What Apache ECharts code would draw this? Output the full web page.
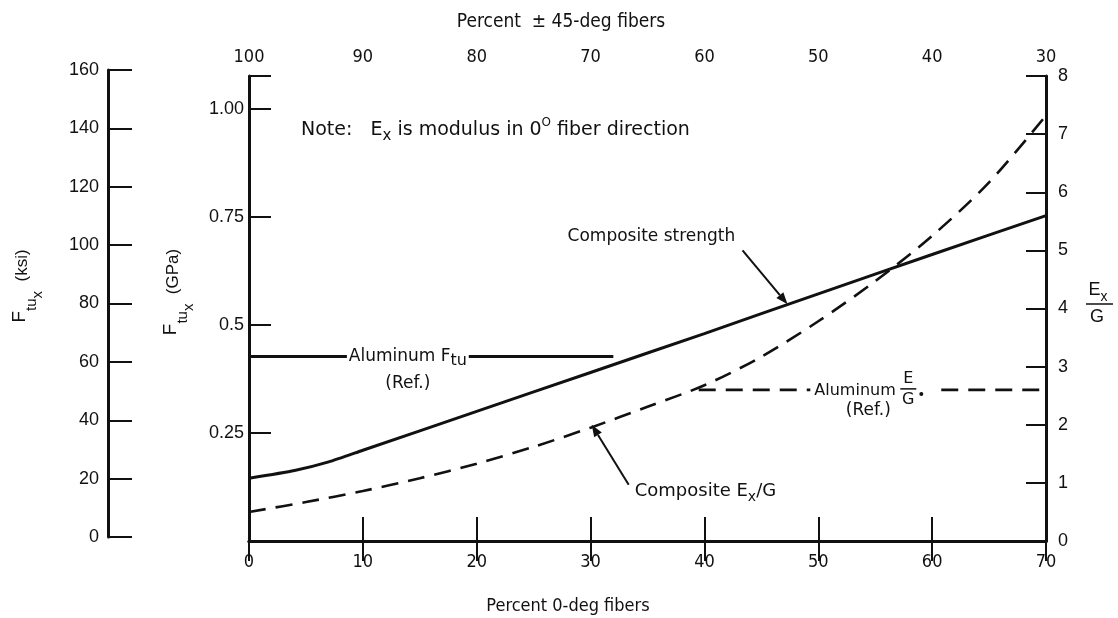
<!DOCTYPE html>
<html>
<head>
<meta charset="utf-8">
<script src="https://cdn.jsdelivr.net/npm/echarts@6/dist/echarts.min.js"></script>
<style>
  html, body { margin: 0; padding: 0; background: #ffffff; }
  #chart { width: 1118px; height: 618px; }
</style>
</head>
<body>
<div id="chart"></div>
<script>
// ---- axis ticks ----
const zeroDegTicks = [0, 10, 20, 30, 40, 50, 60, 70];          // percent 0-deg fibers (bottom)
const pm45Ticks = [100, 90, 80, 70, 60, 50, 40, 30];           // percent ±45-deg fibers (top)
const gpaTickLabels = { '0.25': '0.25', '0.5': '0.5', '0.75': '0.75', '1': '1.00' };
const ksiTicks = [0, 20, 40, 60, 80, 100, 120, 140, 160];
const ratioTicks = [0, 1, 2, 3, 4, 5, 6, 7, 8];

// ---- composite tensile strength, GPa ----
const strengthPct = [0, 4, 7, 10, 20, 30, 40, 50, 60, 70];
const strengthGPa = [0.145, 0.163, 0.183, 0.21, 0.30, 0.39, 0.48, 0.572, 0.663, 0.753];

// ---- composite Ex/G ratio ----
const modulusPct = [0, 5, 10, 15, 20, 25, 30, 35, 40, 45, 50, 55, 60, 65, 70];
const modulusRatio = [0.5, 0.67, 0.86, 1.08, 1.33, 1.62, 1.95, 2.31, 2.68, 3.17, 3.78, 4.47, 5.25, 6.17, 7.32];

// ---- aluminum reference levels (each line is broken around its label) ----
const aluminumFtuGPa = 0.427;
const aluminumFtuPct = [0, 8.6, 19.3, 32];
const aluminumRatio = 2.6;
const aluminumRatioPct = [39.5, 49.3, 60.8, 70];

const SANS = '"Liberation Sans", Arial, sans-serif';
const NARROW = '"Liberation Sans Narrow", "DejaVu Sans Condensed", "Liberation Sans", sans-serif';
const NOTE = '"DejaVu Sans", Verdana, sans-serif';
const INK = '#111111';

function brokenLevel(xs, v) {
  return [[xs[0], v], [xs[1], v], [(xs[1] + xs[2]) / 2, '-'], [xs[2], v], [xs[3], v]];
}

const chart = echarts.init(document.getElementById('chart'), null, { renderer: 'canvas' });

const tickStyle = (len) => ({ show: true, inside: true, length: len, lineStyle: { color: INK, width: 2 } });
const lineStyle = { show: true, lineStyle: { color: INK, width: 3 } };

const option = {
  backgroundColor: '#ffffff',
  animation: false,
  grid: [
    { left: 249, right: 72, top: 76, bottom: 77 },
    { left: 108, top: 70, bottom: 81, width: 40 }
  ],
  xAxis: [
    {
      type: 'value', gridIndex: 0, position: 'bottom', min: 0, max: 70, interval: 10,
      axisLine: lineStyle, axisTick: tickStyle(24), splitLine: { show: false },
      axisLabel: {
        margin: 12, color: INK, fontFamily: NARROW, fontSize: 18,
        formatter: (v) => zeroDegTicks.includes(v) ? String(v) : ''
      }
    },
    {
      type: 'value', gridIndex: 0, position: 'top', min: 30, max: 100, interval: 10, inverse: true,
      axisLine: lineStyle, axisTick: tickStyle(20), splitLine: { show: false },
      axisLabel: {
        margin: 10, color: INK, fontFamily: NARROW, fontSize: 18,
        formatter: (v) => pm45Ticks.includes(v) ? String(v) : ''
      }
    },
    { type: 'value', gridIndex: 1, min: 0, max: 1, show: false }
  ],
  yAxis: [
    {
      type: 'value', gridIndex: 0, position: 'left', min: 0, max: 1.076, interval: 0.25,
      axisLine: lineStyle, axisTick: tickStyle(22), splitLine: { show: false },
      axisLabel: {
        margin: 5, color: INK, fontFamily: SANS, fontSize: 18,
        formatter: (v) => gpaTickLabels[String(+v.toFixed(2))] || ''
      }
    },
    {
      type: 'value', gridIndex: 0, position: 'right', min: 0, max: 8, interval: 1,
      axisLine: lineStyle, axisTick: tickStyle(20), splitLine: { show: false },
      axisLabel: {
        margin: 12, color: INK, fontFamily: SANS, fontSize: 18,
        formatter: (v) => ratioTicks.includes(v) ? String(v) : ''
      }
    },
    {
      type: 'value', gridIndex: 1, position: 'left', min: 0, max: 160, interval: 20,
      axisLine: lineStyle, axisTick: tickStyle(24), splitLine: { show: false },
      axisLabel: {
        margin: 9, color: INK, fontFamily: SANS, fontSize: 18,
        formatter: (v) => ksiTicks.includes(v) ? String(v) : ''
      }
    }
  ],
  series: [
    {
      name: 'Composite strength', type: 'line', xAxisIndex: 0, yAxisIndex: 0,
      data: strengthPct.map((x, i) => [x, strengthGPa[i]]),
      symbol: 'none', smooth: 0.2, lineStyle: { color: INK, width: 3 }
    },
    {
      name: 'Composite Ex/G', type: 'line', xAxisIndex: 0, yAxisIndex: 1,
      data: modulusPct.map((x, i) => [x, modulusRatio[i]]),
      symbol: 'none', smooth: 0.3, lineStyle: { color: INK, width: 2.6, type: [17, 10] }
    },
    {
      name: 'Aluminum Ftu', type: 'line', xAxisIndex: 0, yAxisIndex: 0,
      data: brokenLevel(aluminumFtuPct, aluminumFtuGPa),
      symbol: 'none', connectNulls: false, lineStyle: { color: INK, width: 3 }
    },
    {
      name: 'Aluminum E/G', type: 'line', xAxisIndex: 0, yAxisIndex: 1,
      data: brokenLevel(aluminumRatioPct, aluminumRatio),
      symbol: 'none', connectNulls: false, lineStyle: { color: INK, width: 2.6, type: [17, 10] }
    }
  ]
};

chart.setOption(option);

// ---- annotations placed from data coordinates ----
const toPx = (seriesIndex, x, y) => chart.convertToPixel({ seriesIndex }, [x, y]);

function arrow(tail, tip) {
  const a = Math.atan2(tip[1] - tail[1], tip[0] - tail[0]);
  const L = 12, W = 4.5;
  const c = Math.cos(a), s = Math.sin(a);
  const bx = tip[0] - L * c, by = tip[1] - L * s;
  return [
    { type: 'line', silent: true, shape: { x1: tail[0], y1: tail[1], x2: bx, y2: by },
      style: { stroke: INK, lineWidth: 2 } },
    { type: 'polygon', silent: true,
      shape: { points: [tip, [bx + W * s, by - W * c], [bx - W * s, by + W * c]] },
      style: { fill: INK } }
  ];
}

function label(x, y, text, opts) {
  return {
    type: 'text', x, y, silent: true,
    style: Object.assign({ text, fill: INK, font: '17px ' + NOTE, align: 'left', verticalAlign: 'middle' }, opts || {})
  };
}

// rich-text token: the top padding pushes a token down, giving sub/superscripts
const tok = (size, pad, family) => ({
  fontSize: size, fontFamily: family || NOTE, padding: [pad, 0, 0, 0], verticalAlign: 'top', fill: INK
});
function richText(x, y, text, rich, extra) {
  return Object.assign({
    type: 'text', x, y, silent: true,
    style: { text, rich, align: 'left', verticalAlign: 'top' }
  }, extra || {});
}

const g = [];

// note (base text center lands near y + 5 + 9.5)
g.push(richText(301, 116, '{b|Note:   E}{s|x}{b| is modulus in 0}{p|O}{b| fiber direction}',
  { b: tok(19, 5), s: tok(15, 13), p: tok(12, 1) }));

// composite strength label + arrow
const sTip = toPx(0, 47.3, 0.183 + (47.3 - 7) * 0.00905);
g.push(label(sTip[0] - 220, sTip[1] - 68, 'Composite strength'));
g.push(...arrow([sTip[0] - 45, sTip[1] - 54], sTip));

// composite Ex/G label + arrow
const mTip = toPx(1, 30.1, 2.0);
g.push(...arrow([mTip[0] + 37, mTip[1] + 60], mTip));
g.push(richText(mTip[0] + 43, mTip[1] + 54, '{b|Composite E}{s|x}{b|/G}',
  { b: tok(18, 4), s: tok(14, 12) }));

// aluminum Ftu label
const aF = toPx(2, (aluminumFtuPct[1] + aluminumFtuPct[2]) / 2, aluminumFtuGPa);
g.push(richText(aF[0], aF[1] - 10, '{b|Aluminum F}{s|tu}',
  { b: tok(17, 2), s: tok(16, 6) }));
g[g.length - 1].style.align = 'center';
g.push(label(aF[0], aF[1] + 27, '(Ref.)', { align: 'center' }));

// aluminum E/G label
const aR = toPx(3, aluminumRatioPct[1], aluminumRatio);
const fracX = aR[0] + 98;
g.push(label(aR[0] + 4, aR[1] + 1, 'Aluminum', { font: '16px ' + NOTE }));
g.push(label(fracX, aR[1] - 11, 'E', { align: 'center', font: '16px ' + NOTE }));
g.push({ type: 'line', silent: true, shape: { x1: fracX - 8, y1: aR[1] - 1, x2: fracX + 8, y2: aR[1] - 1 },
         style: { stroke: INK, lineWidth: 1.5 } });
g.push(label(fracX, aR[1] + 10, 'G', { align: 'center', font: '16px ' + NOTE }));
g.push({ type: 'circle', silent: true, shape: { cx: fracX + 13, cy: aR[1] + 4, r: 2 }, style: { fill: INK } });
g.push(label(aR[0] + 58, aR[1] + 21, '(Ref.)', { align: 'center' }));

// axis titles
g.push(label(561, 22, 'Percent  \u00b1 45-deg fibers', { align: 'center', font: '19px ' + NARROW }));
g.push(label(568, 606, 'Percent 0-deg fibers', { align: 'center', font: '18px ' + NARROW }));

const richName = {
  f: tok(19, 0, SANS),
  t: tok(15, 14, SANS),
  x: tok(15, 20, SANS),
  u: tok(17, 4, SANS)
};
g.push(richText(10, 286, '{f|F}{t|tu}{x|x}{u|  (ksi)}', richName, { rotation: Math.PI / 2 }));
g[g.length - 1].style.align = 'center';
g.push(richText(161, 292, '{f|F}{t|tu}{x|x}{u|  (GPa)}', richName, { rotation: Math.PI / 2 }));
g[g.length - 1].style.align = 'center';

// right axis title: Ex over G
g.push(richText(1098, 281, '{b|E}{s|x}', { b: tok(18, 0, SANS), s: tok(14, 9, SANS) }));
g[g.length - 1].style.align = 'center';
g.push({ type: 'line', silent: true, shape: { x1: 1086, y1: 304, x2: 1113, y2: 304 },
         style: { stroke: INK, lineWidth: 1.5 } });
g.push(label(1097, 317, 'G', { align: 'center', font: '18px ' + SANS }));

chart.setOption({ graphic: { elements: g } });
</script>
</body>
</html>
